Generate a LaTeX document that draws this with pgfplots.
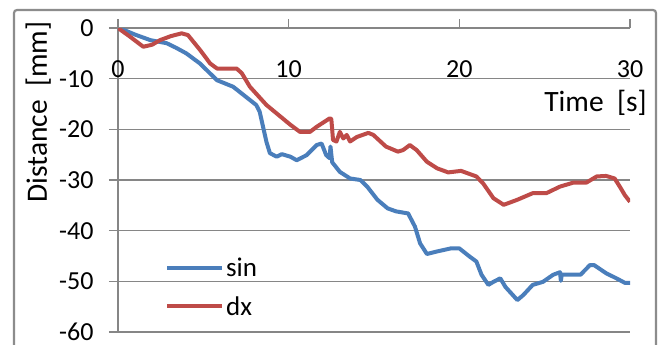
\documentclass[border=0pt]{standalone}
\usepackage{pgfplots}
\pgfplotsset{compat=1.18}
\usepackage{fontspec}
\setmainfont{Carlito}

\definecolor{sinblue}{RGB}{74,126,187}
\definecolor{dxred}{RGB}{190,75,72}
\definecolor{gridgray}{RGB}{134,134,134}
\definecolor{framegray}{RGB}{140,140,140}

\pgfplotstableread{
t d
0 0
0.5 -0.6
1.0 -1.3
1.9 -2.4
2.85 -3.0
3.4 -3.9
4.0 -5.0
4.8 -7.0
5.8 -10.3
6.75 -11.6
7.5 -13.6
8.1 -15.2
8.3 -16.5
8.5 -19.5
8.7 -22.5
8.9 -24.7
9.3 -25.4
9.6 -24.9
10.1 -25.4
10.47 -26.1
11.05 -25.1
11.64 -23.1
11.93 -22.8
12.2 -25.1
12.4 -25.7
12.45 -23.4
12.55 -26.5
13.0 -28.4
13.6 -29.7
14.2 -30.0
14.6 -31.3
15.2 -33.9
15.8 -35.6
16.3 -36.2
17.0 -36.6
17.4 -39.2
17.7 -42.5
18.1 -44.6
18.7 -44.1
19.5 -43.5
20.0 -43.5
20.6 -45.1
21.0 -46.1
21.3 -48.7
21.7 -50.7
22.0 -50.1
22.4 -49.4
22.7 -51.1
23.4 -53.7
23.75 -52.7
24.3 -50.7
24.9 -50.1
25.5 -48.7
25.9 -48.2
25.95 -49.9
26.0 -48.7
27.1 -48.7
27.65 -46.8
27.9 -46.8
28.6 -48.4
29.2 -49.4
29.7 -50.3
30.0 -50.3
}\sindata

\pgfplotstableread{
t d
0 0
0.7 -1.7
1.48 -3.7
2.0 -3.3
2.46 -2.4
3.1 -1.6
3.73 -1.05
4.1 -1.4
4.8 -4.3
5.4 -7.0
5.8 -8.0
6.95 -8.0
7.25 -8.9
7.73 -11.6
8.7 -15.2
10.1 -19.1
10.66 -20.5
11.25 -20.5
11.64 -19.5
12.42 -17.8
12.5 -18.0
12.6 -22.1
12.8 -22.4
13.0 -20.5
13.2 -21.8
13.4 -21.1
13.6 -22.4
14.0 -21.5
14.67 -20.7
14.96 -21.1
15.7 -23.4
16.4 -24.4
16.7 -24.1
17.1 -23.1
17.5 -24.1
18.1 -26.4
18.7 -27.7
19.35 -28.5
20.1 -28.2
21.0 -29.3
21.4 -30.7
22.0 -33.6
22.6 -34.9
23.4 -33.9
24.3 -32.6
25.1 -32.6
25.9 -31.3
26.7 -30.5
27.45 -30.5
28.05 -29.3
28.6 -29.2
29.1 -29.7
29.4 -31.3
29.7 -33.0
30 -34.3
}\dxdata

\begin{document}
\begin{tikzpicture}
\useasboundingbox (-118pt,-13pt) rectangle (541pt,332pt);
\fill[white] (-118pt,-13pt) rectangle (541pt,332pt);
% chart frame
\draw[framegray, line width=2.2pt, rounded corners=3pt] (-104pt,-30pt) rectangle (538pt,322pt);
\begin{axis}[
  at={(0pt,0pt)}, anchor=south west,
  scale only axis, width=512pt, height=304pt,
  xmin=0, xmax=30, ymin=-60, ymax=0,
  axis x line=top, axis y line=left,
  axis line style={gridgray, line width=1.2pt, -},
  xtick={0,10,20,30}, ytick={-60,-50,...,0},
  yticklabels={-60,-50,-40,-30,-20,-10,0},
  tick align=outside,
  major tick length=9pt,
  tick style={gridgray, line width=1.2pt},
  ymajorgrids, grid style={gridgray, line width=1.2pt},
  /pgf/number format/assume math mode=true,
  ticklabel style={font=\fontsize{26}{30}\selectfont, text=black},
  xticklabel style={anchor=north, yshift=-38pt},
  yticklabel style={anchor=east, xshift=-12pt},
  xlabel={Time\ \ [s]},
  xlabel style={font=\fontsize{29.5}{32}\selectfont, at={(rel axis cs:1.033,0.753)}, anchor=east, inner sep=0pt},
  ylabel={Distance\ \ [mm]},
  ylabel style={font=\fontsize{29.5}{32}\selectfont, at={(rel axis cs:-0.156,0.724)}, anchor=center, inner sep=0pt},
  legend style={draw=none, fill=none, at={(axis cs:2.75,-45)}, anchor=north west,
    font=\fontsize{27}{30}\selectfont, row sep=14pt, inner sep=0pt},
  legend cell align=left,
  legend image code/.code={\draw[#1] (0pt,0pt) -- (55pt,0pt);},
]
\addplot[sinblue, line width=4pt, line join=round] table[x=t, y=d] {\sindata};
\addplot[dxred, line width=4pt, line join=round] table[x=t, y=d] {\dxdata};
\legend{sin, dx}
\end{axis}
\end{tikzpicture}
\end{document}
